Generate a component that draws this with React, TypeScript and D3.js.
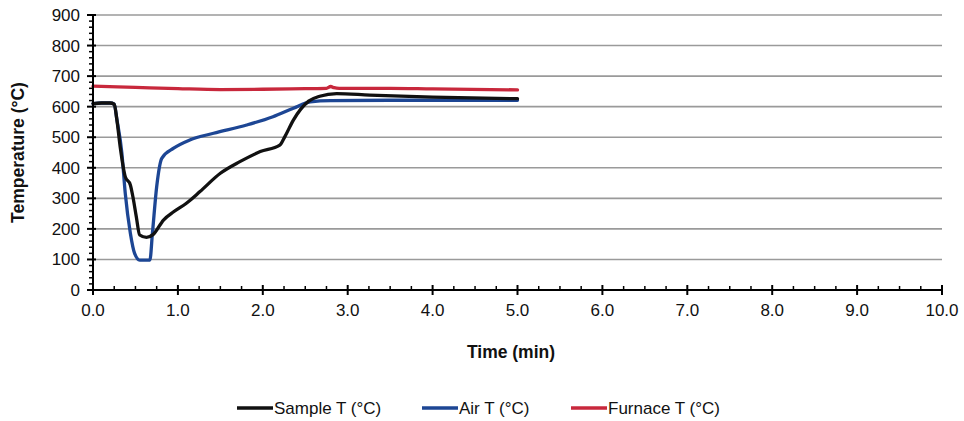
import React from "react";
import * as d3 from "d3";

const yTicks = [0, 100, 200, 300, 400, 500, 600, 700, 800, 900];
const xTicks = [0, 1, 2, 3, 4, 5, 6, 7, 8, 9, 10];

const sampleTime = [0, 0.1, 0.2, 0.25, 0.28, 0.32, 0.38, 0.44, 0.47, 0.51, 0.55, 0.63, 0.71, 0.83, 0.95, 1.1, 1.26, 1.5, 1.73, 1.97, 2.2, 2.26, 2.36, 2.54, 2.67, 2.87, 3.26, 4.0, 5.0];
const sampleTemp = [610, 612, 612, 608, 560, 469, 371, 344, 305, 240, 180, 172, 182, 229, 256, 284, 322, 382, 420, 453, 474, 502, 556, 618, 634, 643, 638, 631, 626];

const airTime = [0, 0.1, 0.2, 0.25, 0.28, 0.34, 0.38, 0.44, 0.49, 0.55, 0.67, 0.7, 0.75, 0.81, 0.95, 1.14, 1.42, 1.81, 2.12, 2.36, 2.56, 2.8, 3.5, 5.0];
const airTemp = [610, 612, 612, 608, 560, 448, 316, 186, 120, 98, 98, 186, 338, 431, 464, 491, 513, 540, 567, 595, 616, 620, 621, 621];

const furnaceTime = [0, 0.5, 1.0, 1.5, 2.0, 2.5, 2.75, 2.8, 2.84, 2.9, 3.5, 4.0, 5.0];
const furnaceTemp = [667, 663, 659, 656, 657, 659, 660, 666, 662, 660, 660, 658, 655];

const seriesNames = ["Sample T (°C)", "Air T (°C)", "Furnace T (°C)"];
const seriesColors = ["#111111", "#1d4694", "#c8283c"];

export default function App() {
  const x0 = 93, x1 = 942, y0 = 290, y1 = 15;
  const x = d3.scaleLinear().domain([0, 10]).range([x0, x1]);
  const y = d3.scaleLinear().domain([0, 900]).range([y0, y1]);
  const line = d3.line<[number, number]>().x(d => x(d[0])).y(d => y(d[1])).curve(d3.curveMonotoneX);

  const series = [
    { t: sampleTime, v: sampleTemp },
    { t: airTime, v: airTemp },
    { t: furnaceTime, v: furnaceTemp },
  ];

  const xMinor = d3.range(0, 10.001, 0.25).filter(v => Math.abs(v - Math.round(v)) > 0.01);
  const yMinor = d3.range(0, 900.1, 20).filter(v => v % 100 !== 0);

  const legendX = [237, 422, 571];

  return (
    <svg width={964} height={421} style={{ position: "absolute", left: 0, top: 0, background: "#fff" }} fontFamily="'Liberation Sans', Arial, sans-serif">
      {yTicks.filter(v => v > 0).map(v => (
        <line key={"g" + v} x1={x0} x2={x1} y1={y(v)} y2={y(v)} stroke="#9a9a9a" strokeWidth={1.6} />
      ))}
      {[2, 1, 0].map(i => (
        <path key={"s" + i} d={line(series[i].t.map((t, j) => [t, series[i].v[j]]) as [number, number][]) || ""} fill="none" stroke={seriesColors[i]} strokeWidth={3.3} strokeLinejoin="round" strokeLinecap="round" />
      ))}
      <line x1={x0} x2={x0} y1={y1} y2={y0} stroke="#000" strokeWidth={2} />
      <line x1={x0} x2={x1} y1={y0} y2={y0} stroke="#000" strokeWidth={2} />
      {yTicks.map(v => (
        <line key={"yt" + v} x1={x0 - 6} x2={x0 + 3} y1={y(v)} y2={y(v)} stroke="#000" strokeWidth={2} />
      ))}
      {yMinor.map(v => (
        <line key={"ym" + v} x1={x0 - 4} x2={x0} y1={y(v)} y2={y(v)} stroke="#000" strokeWidth={1.5} />
      ))}
      {xTicks.map(v => (
        <line key={"xt" + v} x1={x(v)} x2={x(v)} y1={y0 - 5} y2={y0 + 5} stroke="#000" strokeWidth={2} />
      ))}
      {xMinor.map(v => (
        <line key={"xm" + v} x1={x(v)} x2={x(v)} y1={y0 - 4} y2={y0} stroke="#000" strokeWidth={1.5} />
      ))}
      {yTicks.map(v => (
        <text key={"yl" + v} x={80} y={y(v) + 6} textAnchor="end" fontSize={17} fill="#111">{v}</text>
      ))}
      {xTicks.map(v => (
        <text key={"xl" + v} x={x(v)} y={316} textAnchor="middle" fontSize={17} fill="#111">{v.toFixed(1)}</text>
      ))}
      <text x={511} y={358} textAnchor="middle" fontSize={17.5} fontWeight="bold" fill="#111">Time (min)</text>
      <text transform={`translate(24,${(y0 + y1) / 2}) rotate(-90)`} textAnchor="middle" fontSize={17.5} fontWeight="bold" fill="#111">Temperature (°C)</text>
      {seriesNames.map((n, i) => (
        <g key={"lg" + i}>
          <line x1={legendX[i]} x2={legendX[i] + 36} y1={408} y2={408} stroke={seriesColors[i]} strokeWidth={3.5} />
          <text x={legendX[i] + 37} y={414} fontSize={17} fill="#111">{n}</text>
        </g>
      ))}
    </svg>
  );
}
